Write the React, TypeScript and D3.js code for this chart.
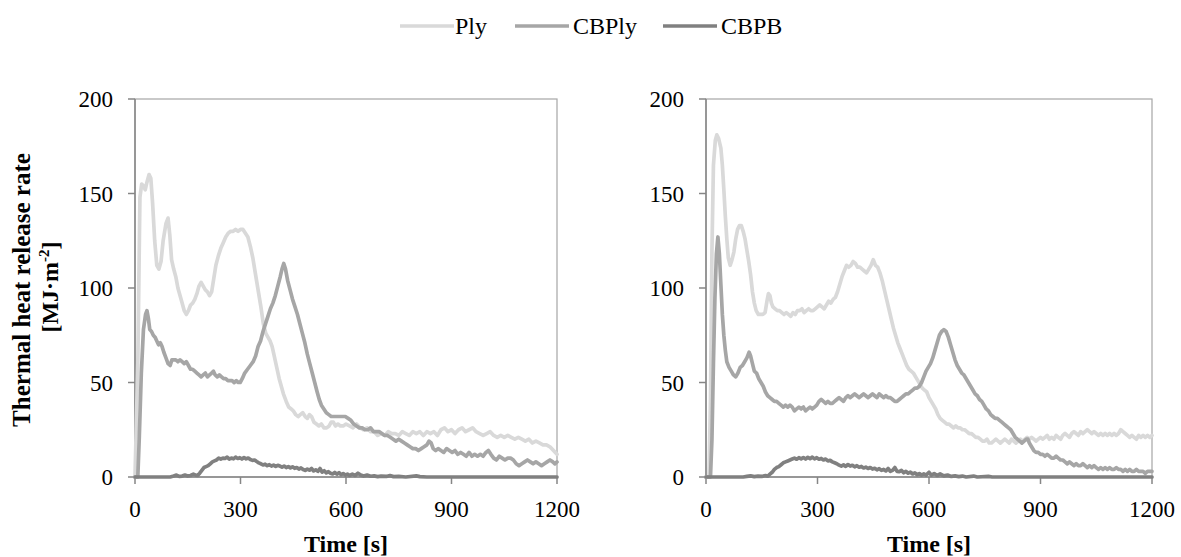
import React from "react";
import * as d3 from "d3";

type P = [number, number];

const seriesNames = ["Ply", "CBPly", "CBPB"];
const seriesColors = ["#d9d9d9", "#a6a6a6", "#808080"];
const xTicks = [0, 300, 600, 900, 1200];
const yTicks = [0, 50, 100, 150, 200];

const leftPly: P[] = [[0,0],[8,60],[14,148],[19,155],[24,154],[29,152],[34,156],[40,160],[45,158],[50,145],[56,125],[62,112],[68,110],[74,114],[80,125],[88,134],[94,137],[99,128],[104,115],[110,110],[116,106],[122,100],[128,96],[134,92],[140,88],[146,86],[152,88],[158,91],[164,92],[170,94],[176,97],[182,101],[188,103],[194,101],[200,99],[206,98],[212,96],[218,98],[224,105],[230,112],[237,117],[244,121],[251,124],[258,127],[265,129],[272,130],[279,130],[286,131],[293,130],[300,131],[307,131],[314,129],[321,127],[328,122],[335,116],[342,108],[350,99],[358,90],[365,81],[372,76],[378,74],[384,72],[390,69],[396,64],[403,58],[410,52],[416,48],[422,44],[430,40],[437,37],[444,36],[450,35],[457,33],[464,32],[470,33],[477,34],[484,32],[490,31],[496,33],[502,32],[509,29],[516,28],[523,27],[530,28],[537,26],[545,26],[552,27],[558,29],[564,29],[570,27],[577,28],[584,27],[592,27],[600,28],[610,27],[620,26],[630,28],[640,26],[650,25],[660,26],[670,24],[680,24],[690,22],[700,23],[710,22],[720,24],[730,23],[740,23],[750,22],[760,24],[770,23],[780,22],[790,24],[800,23],[810,24],[820,22],[830,24],[840,23],[850,24],[860,22],[870,25],[880,26],[890,24],[900,25],[910,23],[920,25],[930,26],[940,24],[950,25],[960,26],[970,24],[980,23],[990,22],[1000,23],[1010,24],[1020,22],[1030,21],[1040,22],[1050,21],[1060,22],[1070,21],[1080,20],[1090,21],[1100,20],[1110,19],[1120,20],[1130,18],[1140,19],[1150,18],[1160,17],[1170,17],[1180,16],[1190,14],[1200,12]];

const leftCBPly: P[] = [[0,0],[8,0],[12,20],[18,55],[24,78],[30,86],[34,88],[38,84],[42,78],[47,77],[52,75],[57,74],[62,72],[67,70],[72,71],[77,69],[82,66],[88,63],[94,60],[100,59],[105,62],[110,62],[116,62],[122,61],[128,62],[134,61],[140,60],[146,61],[152,59],[158,57],[164,57],[170,56],[176,55],[182,54],[188,53],[194,54],[200,55],[206,53],[212,54],[218,55],[223,56],[228,54],[234,53],[240,54],[246,53],[252,52],[258,52],[264,51],[270,51],[276,51],[282,50],[288,51],[294,50],[299,50],[305,52],[312,55],[320,57],[328,59],[336,61],[343,64],[350,69],[357,72],[364,77],[371,81],[378,85],[385,89],[392,92],[399,96],[406,101],[413,106],[418,110],[423,113],[428,110],[434,104],[441,99],[448,94],[455,90],[462,86],[469,81],[476,76],[483,71],[490,65],[497,60],[504,55],[511,50],[518,45],[524,41],[530,38],[537,36],[544,34],[551,33],[558,32],[566,32],[574,32],[582,32],[590,32],[598,32],[606,31],[614,30],[622,28],[630,27],[638,26],[646,26],[654,25],[662,25],[670,26],[678,24],[686,24],[694,24],[702,23],[710,22],[718,22],[726,21],[734,20],[742,19],[750,20],[758,19],[766,18],[774,17],[782,16],[790,15],[798,15],[806,14],[814,15],[822,16],[830,17],[836,19],[842,18],[848,15],[855,14],[862,15],[870,14],[878,13],[886,15],[894,14],[902,13],[910,14],[918,12],[926,13],[934,12],[942,11],[950,13],[958,11],[966,12],[974,11],[982,12],[990,11],[998,13],[1005,14],[1012,12],[1020,10],[1028,9],[1036,11],[1044,10],[1052,9],[1060,10],[1068,10],[1076,9],[1084,7],[1092,6],[1100,7],[1108,8],[1116,9],[1124,8],[1132,7],[1140,8],[1148,7],[1156,6],[1164,7],[1172,8],[1180,9],[1188,8],[1194,7],[1200,8]];

const leftCBPB: P[] = [[0,0],[100,0],[110,0.5],[118,1],[126,0.3],[134,0.5],[142,1],[150,0.5],[158,0.8],[166,1.5],[172,1],[178,0.8],[184,2],[190,3.5],[196,5],[202,5.5],[208,6],[214,7],[220,8],[226,8.5],[232,9],[238,10],[244,9.5],[250,10],[256,9.8],[262,10.5],[268,9.5],[274,10],[280,9.6],[286,10.5],[292,9.8],[298,10.2],[304,9.5],[310,10.3],[316,9.6],[322,10],[328,9.2],[334,8.8],[340,9],[346,8.2],[352,7.5],[358,7],[364,6.4],[370,6.8],[376,6],[382,6.5],[388,5.8],[394,6.3],[400,5.6],[406,6.2],[412,5.8],[418,5.2],[424,5.8],[430,5],[436,5.5],[442,4.8],[448,5.4],[454,4.6],[460,5],[466,4.2],[472,4.8],[478,4],[484,3.5],[490,4.2],[496,3.6],[502,4.5],[508,3.2],[514,3.8],[520,3],[526,4.5],[532,2.6],[538,3.3],[544,2.2],[550,2.8],[556,2],[562,1.6],[568,2.4],[574,1.5],[580,2.3],[586,1.2],[592,1.8],[598,1],[604,1.5],[610,0.8],[618,1.5],[626,0.8],[634,2],[642,1],[650,0.5],[660,1],[670,0.4],[680,0.6],[690,0.2],[700,0.5],[715,0.3],[725,0.8],[735,0.2],[750,0.3],[770,0],[800,0.6],[810,0.2],[830,0],[1200,0]];

const rightPly: P[] = [[0,0],[8,0],[12,40],[16,120],[20,165],[25,178],[29,181],[34,179],[40,174],[44,165],[48,152],[52,138],[56,126],[60,116],[65,112],[70,115],[75,119],[80,126],[85,131],[90,133],[95,133],[100,130],[105,126],[110,120],[115,114],[120,107],[125,98],[130,92],[135,88],[141,86],[147,86],[153,86],[159,87],[164,93],[168,97],[172,96],[176,92],[180,90],[186,89],[192,88],[198,88],[204,87],[210,86],[216,87],[222,86],[228,85],[234,87],[240,86],[246,88],[252,88],[258,89],[264,87],[270,88],[276,89],[282,88],[288,88],[294,89],[300,90],[306,91],[312,90],[318,89],[324,91],[330,93],[336,92],[342,94],[348,95],[354,98],[360,102],[366,106],[372,109],[378,112],[384,111],[390,112],[396,114],[402,113],[408,111],[414,111],[420,110],[426,109],[432,108],[438,110],[444,112],[450,115],[456,112],[462,111],[468,108],[474,104],[480,99],[486,94],[492,89],[498,84],[504,79],[510,75],[516,71],[522,68],[528,65],[534,62],[540,59],[546,57],[552,56],[558,55],[564,53],[570,51],[576,49],[582,47],[588,46],[594,45],[600,42],[606,40],[612,38],[618,36],[624,33],[630,31],[636,30],[642,29],[648,28],[654,28],[660,27],[666,26],[672,27],[678,26],[684,26],[690,25],[696,25],[702,24],[708,23],[714,23],[720,22],[726,21],[732,21],[738,20],[744,19],[750,19],[756,20],[762,18],[768,18],[774,19],[780,20],[786,19],[792,18],[798,19],[804,20],[810,19],[816,18],[822,20],[828,19],[834,18],[840,19],[846,20],[852,19],[858,20],[864,21],[870,20],[876,21],[882,20],[888,19],[894,20],[900,21],[906,20],[912,21],[918,22],[924,20],[930,21],[936,20],[942,22],[948,21],[954,20],[960,22],[966,23],[972,22],[978,21],[984,23],[990,24],[996,23],[1002,22],[1008,24],[1014,23],[1020,24],[1026,25],[1032,24],[1038,23],[1044,24],[1050,23],[1056,22],[1062,23],[1068,22],[1074,23],[1080,22],[1086,23],[1092,22],[1098,23],[1104,22],[1110,23],[1116,25],[1122,24],[1128,23],[1134,22],[1140,21],[1146,22],[1152,21],[1158,20],[1164,22],[1170,21],[1176,22],[1182,21],[1188,22],[1194,21],[1200,22]];

const rightCBPly: P[] = [[0,0],[12,0],[16,20],[20,60],[24,95],[28,118],[32,127],[36,118],[40,102],[44,86],[48,75],[52,67],[56,61],[62,58],[68,56],[74,54],[80,53],[86,55],[92,58],[98,59],[104,61],[110,63],[116,66],[120,64],[125,60],[130,56],[136,55],[142,52],[148,50],[154,48],[160,45],[166,43],[172,42],[178,41],[184,40],[190,40],[196,39],[202,38],[208,37],[214,38],[220,37],[226,38],[232,37],[238,35],[244,36],[250,37],[256,36],[262,37],[268,35],[274,36],[280,37],[286,36],[292,37],[298,38],[304,40],[310,41],[316,40],[322,39],[328,40],[334,39],[340,39],[346,40],[352,41],[358,42],[364,41],[370,40],[376,42],[382,43],[388,42],[394,43],[400,44],[406,43],[412,42],[418,43],[424,44],[430,43],[436,42],[442,43],[448,44],[454,43],[460,42],[466,44],[472,43],[478,42],[484,43],[490,42],[496,42],[502,41],[508,40],[514,40],[520,41],[526,42],[532,43],[538,44],[544,44],[550,45],[556,46],[562,47],[568,47],[574,48],[580,50],[586,53],[592,56],[598,58],[604,60],[610,63],[616,67],[622,71],[628,75],[634,77],[640,78],[646,77],[652,74],[658,70],[664,66],[670,62],[676,59],[682,57],[688,55],[694,54],[700,52],[706,50],[712,48],[718,46],[724,44],[730,43],[736,41],[742,40],[748,38],[754,36],[760,35],[766,33],[772,32],[778,31],[784,31],[790,30],[796,29],[802,28],[808,27],[814,26],[820,25],[826,23],[832,21],[838,20],[844,19],[850,18],[856,19],[862,20],[866,20],[870,18],[876,16],[882,14],[888,13],[894,13],[900,12],[906,12],[912,11],[918,12],[924,11],[930,10],[936,10],[942,11],[948,10],[954,9],[960,9],[966,8],[972,7],[978,8],[984,7],[990,6],[996,7],[1002,6],[1008,6],[1014,7],[1020,6],[1026,5],[1032,6],[1038,5],[1044,6],[1050,5],[1056,4],[1062,5],[1068,4],[1074,5],[1080,4],[1086,5],[1092,4],[1098,4],[1104,5],[1110,4],[1116,4],[1122,3],[1128,4],[1134,3],[1140,4],[1146,3],[1152,3],[1158,4],[1164,3],[1170,3],[1176,3],[1182,2],[1188,3],[1194,3],[1200,3]];

const rightCBPB: P[] = [[0,0],[100,0],[110,0.3],[120,0.6],[130,0.2],[140,0.5],[150,0.3],[160,0.8],[166,0.4],[172,1.5],[178,2.5],[184,4],[190,5],[196,5.5],[202,6.5],[208,7.5],[214,8],[220,8.5],[226,9],[232,9.5],[238,10],[244,9.4],[250,10.2],[256,9.6],[262,10.3],[268,9.5],[274,10.4],[280,9.7],[286,10.5],[292,9.6],[298,10.2],[304,9.4],[310,9.8],[316,9],[322,9.5],[328,8.5],[334,8.8],[340,8],[346,7.5],[352,7],[358,6.3],[364,5.8],[370,6.4],[376,5.6],[382,6.6],[388,5.8],[394,6.2],[400,5.4],[406,6],[412,5.2],[418,5.6],[424,4.8],[430,5.2],[436,4.5],[442,5],[448,4.2],[454,4.6],[460,3.8],[466,4.4],[472,3.5],[478,4],[484,3.2],[490,4.5],[496,3],[502,3.5],[508,5],[514,3],[520,2.8],[526,3.5],[532,2.2],[538,3],[544,2],[550,2.6],[556,1.6],[562,2.2],[568,1.2],[574,1.8],[580,1],[586,1.6],[592,1],[600,2.5],[606,1],[614,1.8],[622,0.8],[630,1.6],[640,0.6],[650,1],[660,0.3],[670,0.6],[680,0.2],[690,0.5],[700,0],[720,0.5],[730,0],[760,0.3],[770,0],[1200,0]];

const panels = [
  { x0: 135, x1: 557, series: [leftPly, leftCBPly, leftCBPB], showYTitle: true },
  { x0: 706, x1: 1152, series: [rightPly, rightCBPly, rightCBPB], showYTitle: false },
];

const Y_TOP = 99;
const Y_BOT = 477;
const SERIF = "'Liberation Serif', 'Times New Roman', serif";

function Panel({ x0, x1, series, showYTitle }: { x0: number; x1: number; series: P[][]; showYTitle: boolean }) {
  const x = d3.scaleLinear().domain([0, 1200]).range([x0, x1]);
  const y = d3.scaleLinear().domain([0, 200]).range([Y_BOT, Y_TOP]);
  const line = d3.line<P>().x((d) => x(d[0])).y((d) => y(d[1]));
  const cx = (x0 + x1) / 2;
  return (
    <g>
      <rect x={x0} y={Y_TOP} width={x1 - x0} height={Y_BOT - Y_TOP} fill="none" stroke="#a6a6a6" strokeWidth={1.2} />
      <line x1={x0} x2={x0} y1={Y_TOP} y2={Y_BOT} stroke="#868686" strokeWidth={1.5} />
      <line x1={x0} x2={x1} y1={Y_BOT} y2={Y_BOT} stroke="#868686" strokeWidth={1.5} />
      {yTicks.map((t) => (
        <g key={"y" + t}>
          <line x1={x0 - 7} x2={x0} y1={y(t)} y2={y(t)} stroke="#868686" strokeWidth={1.5} />
          <text x={x0 - 22} y={y(t) + 8} textAnchor="end" fontFamily={SERIF} fontSize={23} fill="#000">{t}</text>
        </g>
      ))}
      {xTicks.map((t) => (
        <g key={"x" + t}>
          <line x1={x(t)} x2={x(t)} y1={Y_BOT} y2={Y_BOT + 7} stroke="#868686" strokeWidth={1.5} />
          <text x={x(t)} y={517} textAnchor="middle" fontFamily={SERIF} fontSize={23} fill="#000">{t}</text>
        </g>
      ))}
      {series.map((s, i) => (
        <path key={i} d={line(s) || ""} fill="none" stroke={seriesColors[i]} strokeWidth={3.7} strokeLinejoin="round" strokeLinecap="round" />
      ))}
      <text x={cx} y={552} textAnchor="middle" fontFamily={SERIF} fontSize={24} fontWeight="bold" fill="#000">Time [s]</text>
      {showYTitle && (
        <g>
          <text transform="translate(30,290) rotate(-90)" textAnchor="middle" fontFamily={SERIF} fontSize={25} fontWeight="bold" fill="#000">Thermal heat release rate</text>
          <text transform="translate(58,287) rotate(-90)" textAnchor="middle" fontFamily={SERIF} fontSize={24} fontWeight="bold" fill="#000">
            [MJ·m<tspan fontSize={15} dy={-9}>-2</tspan><tspan dy={9}>]</tspan>
          </text>
        </g>
      )}
    </g>
  );
}

const legendPos = [
  { lx: 400, tx: 455 },
  { lx: 515, tx: 573 },
  { lx: 663, tx: 721 },
];

export default function App() {
  return (
    <svg width={1181} height={557} style={{ position: "absolute", left: 0, top: 0, background: "#fff" }}>
      <rect width={1181} height={557} fill="#fff" />
      {seriesNames.map((n, i) => (
        <g key={n}>
          <line x1={legendPos[i].lx} x2={legendPos[i].lx + 54} y1={26} y2={26} stroke={seriesColors[i]} strokeWidth={3.7} />
          <text x={legendPos[i].tx} y={34} fontFamily={SERIF} fontSize={24} fill="#000">{n}</text>
        </g>
      ))}
      {panels.map((p, i) => (
        <Panel key={i} {...p} />
      ))}
    </svg>
  );
}
